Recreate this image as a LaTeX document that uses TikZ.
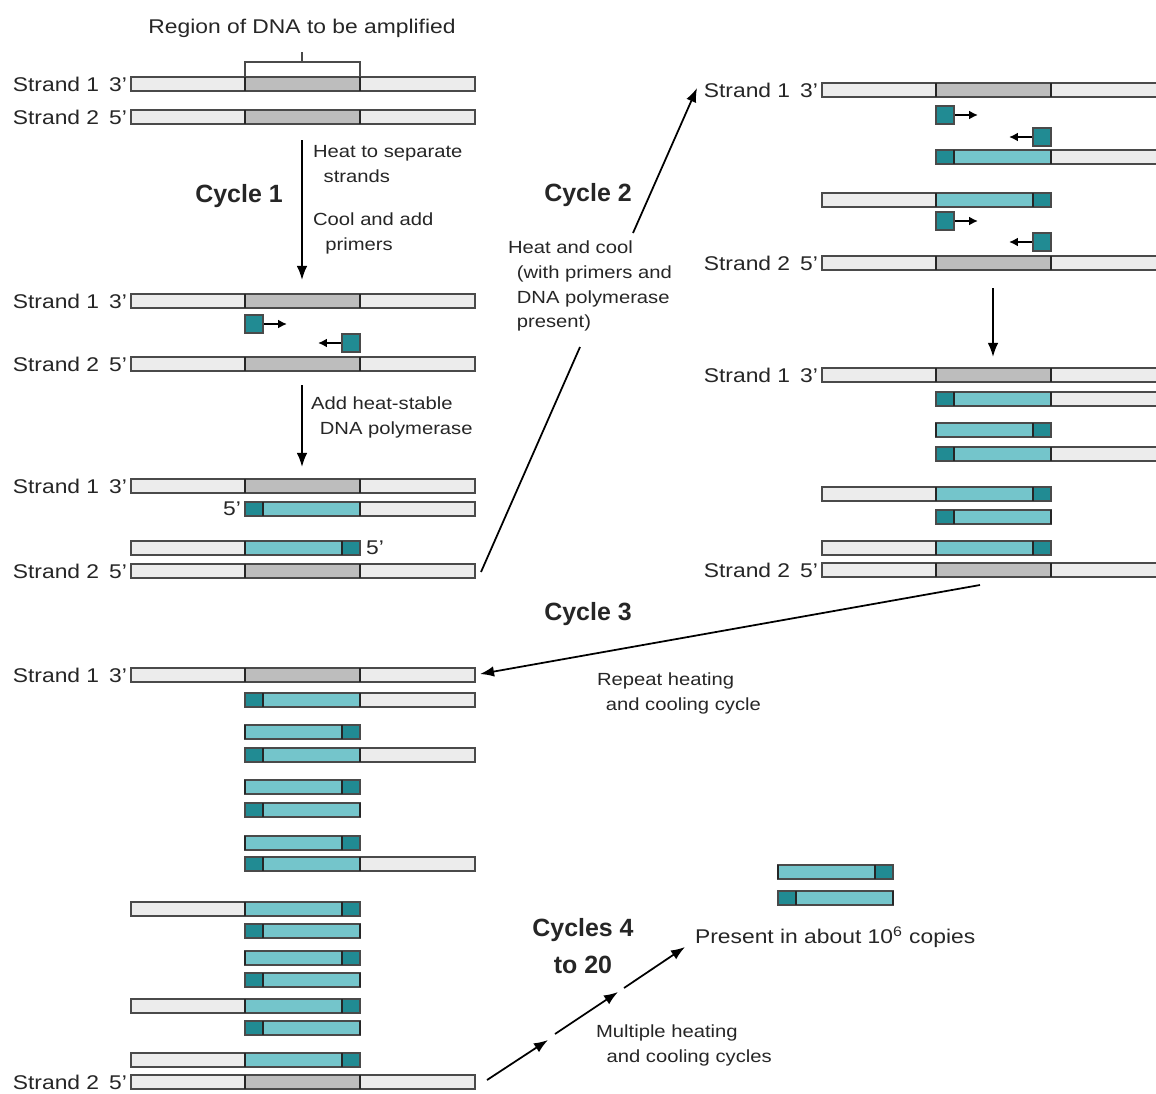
\documentclass[tikz,border=0pt]{standalone}
\usepackage{fontspec}
\setmainfont{Liberation Sans}[FakeStretch=1.15]
\newfontfamily\ciclofont{Liberation Sans}
\usetikzlibrary{arrows.meta}

\definecolor{claro}{HTML}{ECECEC}
\definecolor{gris}{HTML}{BDBDBD}
\definecolor{turq}{HTML}{74C5CB}
\definecolor{turqosc}{HTML}{218B93}
\definecolor{borde}{HTML}{4A4A4A}

% hebra molde: claro | region | claro
\newcommand{\molde}[2]{%
  \fill[claro] (#1,#2-7) rectangle (#1+344,#2+7);
  \fill[gris] (#1+114,#2-7) rectangle (#1+229,#2+7);
  \draw[contorno] (#1,#2-7) rectangle (#1+344,#2+7);
  \draw[corte] (#1+114,#2-7) -- ++(0,14);
  \draw[corte, line width=1.4pt] (#1+229,#2-7) -- ++(0,14);
}
% copia con cebador a la izquierda
\newcommand{\prodF}[3]{%
  \fill[claro] (#1+229,#2-7) rectangle (#1+#3,#2+7);
  \fill[turq] (#1+114,#2-7) rectangle (#1+229,#2+7);
  \fill[turqosc] (#1+114,#2-7) rectangle (#1+132,#2+7);
  \draw[contorno] (#1+114,#2-7) rectangle (#1+#3,#2+7);
  \draw[corte] (#1+132,#2-7) -- ++(0,14);
  \draw[corte] (#1+229,#2-7) -- ++(0,14);
}
% copia con cebador a la derecha
\newcommand{\prodR}[3]{%
  \fill[claro] (#1+#3,#2-7) rectangle (#1+114,#2+7);
  \fill[turq] (#1+114,#2-7) rectangle (#1+229,#2+7);
  \fill[turqosc] (#1+211,#2-7) rectangle (#1+229,#2+7);
  \draw[contorno] (#1+#3,#2-7) rectangle (#1+229,#2+7);
  \draw[corte] (#1+114,#2-7) -- ++(0,14);
  \draw[corte] (#1+211,#2-7) -- ++(0,14);
}
% cebadores
\newcommand{\cebF}[2]{%
  \draw[cebador] (#1+132,#2) -- (#1+156,#2);
  \filldraw[fill=turqosc, contorno] (#1+114,#2-9) rectangle (#1+132,#2+9);
}
\newcommand{\cebR}[2]{%
  \draw[cebador] (#1+211,#2) -- (#1+187,#2);
  \filldraw[fill=turqosc, contorno] (#1+211,#2-9) rectangle (#1+229,#2+9);
}

\begin{document}
\begin{tikzpicture}[x=0.02cm, y=-0.02cm,
    every node/.style={font=\fontsize{11.3}{14.2}\selectfont, inner sep=1pt, text=black!85},
    contorno/.style={draw=borde, line width=0.8pt},
    corte/.style={draw=black!85, line width=0.8pt},
    flecha/.style={-{Latex[length=8pt,width=6pt]}, line width=1pt},
    cebador/.style={-{Latex[length=5pt,width=5pt]}, line width=1.2pt},
    ciclo/.style={font=\ciclofont\bfseries\fontsize{14.2}{21.5}\selectfont},
    nota/.style={align=left, anchor=west, font=\fontsize{10}{14.2}\selectfont}]
    \clip (0,0) rectangle (1156,1093);
    \fill[white] (0,0) rectangle (1156,1093);

    % Ciclo 1
    \node (reg) at (302,28) {Region of DNA to be amplified};
    \draw[contorno] (245,77) -- (245,62) -- (360,62) -- (360,77);
    \draw[contorno] (302,62) -- (302,52);
    \node[anchor=east] (s1a) at (129,84) {Strand 1\hspace{0.5em}3'};
    \node[anchor=east] (s2a) at (129,117) {Strand 2\hspace{0.5em}5'};
    \molde{131}{84}
    \molde{131}{117}

    \node[nota] (t1) at (311,164) {Heat to separate\\\hspace*{0.6em}strands};
    \node[ciclo] (c1) at (239,196) {Cycle 1};
    \node[nota] (t2) at (311,233) {Cool and add\\\hspace*{0.7em}primers};

    \node[anchor=east] (s1b) at (129,301) {Strand 1\hspace{0.5em}3'};
    \node[anchor=east] (s2b) at (129,364) {Strand 2\hspace{0.5em}5'};
    \molde{131}{301}
    \cebF{131}{324}
    \cebR{131}{343}
    \molde{131}{364}

    \node[nota] (t3) at (309,417) {Add heat-stable\\\hspace*{0.5em}DNA polymerase};

    \node[anchor=east] (s1c) at (129,486) {Strand 1\hspace{0.5em}3'};
    \node[anchor=east] (s2c) at (129,571) {Strand 2\hspace{0.5em}5'};
    \molde{131}{486}
    \prodF{131}{509}{344}
    \node[anchor=east] (p5a) at (243,509) {5'};
    \prodR{131}{548}{0}
    \node[anchor=west] (p5b) at (364,548) {5'};
    \molde{131}{571}

    % Ciclo 2
    \node[ciclo] (c2) at (588,195) {Cycle 2};
    \node[nota] (t4) at (506,286) {Heat and cool\\\hspace*{0.5em}(with primers and\\\hspace*{0.5em}DNA polymerase\\\hspace*{0.5em}present)};

    \node[anchor=east] (r1) at (820,90) {Strand 1\hspace{0.5em}3'};
    \node[anchor=east] (r2) at (820,263) {Strand 2\hspace{0.5em}5'};
    \molde{822}{90}
    \cebF{822}{115}
    \cebR{822}{137}
    \prodF{822}{157}{344}
    \prodR{822}{200}{0}
    \cebF{822}{221}
    \cebR{822}{242}
    \molde{822}{263}

    \node[anchor=east] (r3) at (820,375) {Strand 1\hspace{0.5em}3'};
    \node[anchor=east] (r4) at (820,570) {Strand 2\hspace{0.5em}5'};
    \molde{822}{375}
    \prodF{822}{399}{344}
    \prodR{822}{430}{114}
    \prodF{822}{454}{344}
    \prodR{822}{494}{0}
    \prodF{822}{517}{229}
    \prodR{822}{548}{0}
    \molde{822}{570}

    % Ciclo 3
    \node[ciclo] (c3) at (588,614) {Cycle 3};
    \node[nota] (t5) at (595,693) {Repeat heating\\\hspace*{0.5em}and cooling cycle};

    \node[anchor=east] (s1d) at (129,675) {Strand 1\hspace{0.5em}3'};
    \node[anchor=east] (s2d) at (129,1082) {Strand 2\hspace{0.5em}5'};
    \molde{131}{675}
    \prodF{131}{700}{344}
    \prodR{131}{732}{114}
    \prodF{131}{755}{344}
    \prodR{131}{787}{114}
    \prodF{131}{810}{229}
    \prodR{131}{843}{114}
    \prodF{131}{864}{344}
    \prodR{131}{909}{0}
    \prodF{131}{931}{229}
    \prodR{131}{958}{114}
    \prodF{131}{980}{229}
    \prodR{131}{1006}{0}
    \prodF{131}{1028}{229}
    \prodR{131}{1060}{0}
    \molde{131}{1082}

    % Ciclos 4 a 20
    \prodR{664}{872}{114}
    \prodF{664}{898}{229}
    \node[anchor=west] (cop) at (693,937) {Present in about 10\textsuperscript{6} copies};
    \node[ciclo, align=center] (c4) at (583,946) {Cycles 4\\to 20};
    \node[nota] (t6) at (594,1045) {Multiple heating\\\hspace*{0.6em}and cooling cycles};

    % Puntos
    \coordinate (a1) at (302,140);
    \coordinate (a2) at (302,280);
    \coordinate (b1) at (302,385);
    \coordinate (b2) at (302,467);
    \coordinate (c2a) at (481,572);
    \coordinate (c2b) at (580,347);
    \coordinate (c2c) at (633,233);
    \coordinate (c2d) at (697,88);
    \coordinate (d1) at (993,288);
    \coordinate (d2) at (993,357);
    \coordinate (c3a) at (980,585);
    \coordinate (c3b) at (480,674);
    \coordinate (p0) at (487,1080);
    \coordinate (p1) at (548,1040);
    \coordinate (p2) at (555,1034);
    \coordinate (p3) at (618,992);
    \coordinate (p4) at (624,988);
    \coordinate (p5) at (685,947);

    % Conexiones
    \draw[flecha] (a1) -- (a2);
    \draw[flecha] (b1) -- (b2);
    \draw[line width=1pt] (c2a) -- (c2b);
    \draw[flecha] (c2c) -- (c2d);
    \draw[flecha] (d1) -- (d2);
    \draw[flecha] (c3a) -- (c3b);
    \draw[flecha] (p0) -- (p1);
    \draw[flecha] (p2) -- (p3);
    \draw[flecha] (p4) -- (p5);

\end{tikzpicture}
\end{document}
